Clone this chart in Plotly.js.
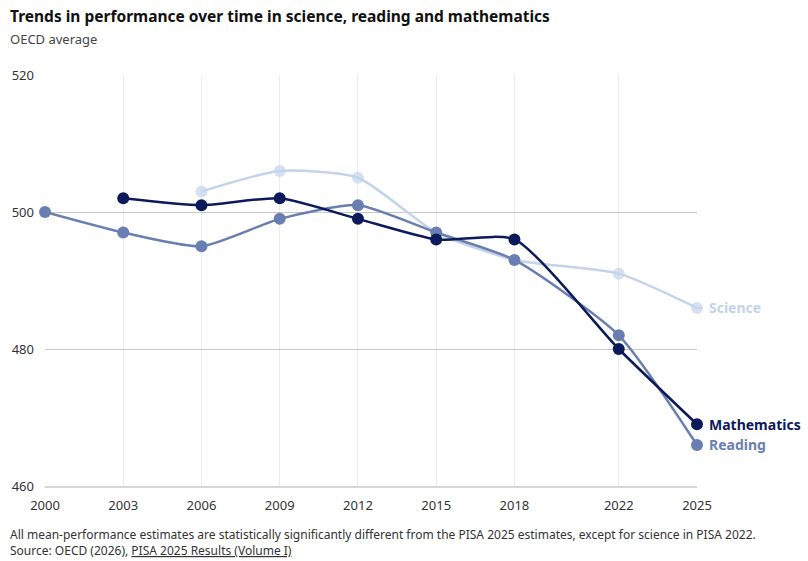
<!DOCTYPE html>
<html>
<head>
<meta charset="utf-8">
<script src="https://cdn.plot.ly/plotly-3.0.1.min.js"></script>
<style>
  body { margin: 0; background: #fff; }
  #chart { width: 808px; height: 561px; }
</style>
</head>
<body>
<div id="chart"></div>
<script>
// Data (OECD average scores)
const years = [2000, 2003, 2006, 2009, 2012, 2015, 2018, 2022, 2025];
const scienceYears = [2006, 2009, 2012, 2015, 2018, 2022, 2025];
const scienceScores = [503, 506, 505, 497, 493, 491, 486];
const scienceMarkerShown = [1, 1, 1, 0, 0, 1, 1];
const mathYears = [2003, 2006, 2009, 2012, 2015, 2018, 2022, 2025];
const mathScores = [502, 501, 502, 499, 496, 496, 480, 469];
const readingYears = [2000, 2003, 2006, 2009, 2012, 2015, 2018, 2022, 2025];
const readingScores = [500, 497, 495, 499, 501, 497, 493, 482, 466];
const yTicks = [460, 480, 500, 520];

const colScience = "#c3d4ea";
const colReading = "#6a7fb1";
const colMath = "#0c1a5b";
const font = "Noto Sans, Open Sans, sans-serif";

function series(name, x, y, color, sizes) {
    return {
        type: "scatter",
        mode: "lines+markers",
        name: name,
        x: x,
        y: y,
        line: { color: color, width: 2.5, shape: "spline", smoothing: 0.6 },
        marker: { color: color, size: sizes, line: { width: 0 } },
        cliponaxis: false,
        hoverinfo: "skip"
    };
}

const traces = [
    series("Science", scienceYears, scienceScores, colScience, scienceMarkerShown.map(v => v ? 12 : 0)),
    series("Reading", readingYears, readingScores, colReading, 12),
    series("Mathematics", mathYears, mathScores, colMath, 12)
];

// end-of-line labels
function endLabel(text, x, y, color) {
    return {
        x: x, y: y, xref: "x", yref: "y",
        text: "<b>" + text + "</b>",
        showarrow: true, arrowhead: 0, arrowwidth: 2, arrowcolor: color,
        ax: 10, ay: 0, xanchor: "left", startstandoff: 5, standoff: 0,
        font: { family: font, size: 14, color: color }
    };
}

const last = a => a[a.length - 1];

const layout = {
    width: 808,
    height: 561,
    margin: { l: 45, r: 111, t: 75, b: 75 },
    paper_bgcolor: "#fff",
    plot_bgcolor: "#fff",
    showlegend: false,
    font: { family: font, size: 13, color: "#333" },
    xaxis: {
        range: [2000, 2025],
        tickvals: years,
        ticktext: years.map(String),
        showgrid: true, gridcolor: "#ececec", gridwidth: 1,
        zeroline: false, showline: true, linecolor: "#d6d6d6", linewidth: 2,
        ticks: "", ticklabelstandoff: 6,
        tickfont: { family: font, size: 13, color: "#333" }
    },
    yaxis: {
        range: [460, 520],
        tickvals: yTicks,
        showgrid: true, gridcolor: "#c8c8c8", gridwidth: 1,
        zeroline: false, showline: false, ticks: "",
        ticklabelstandoff: 10,
        tickfont: { family: font, size: 13, color: "#333" }
    },
    annotations: [
        {
            xref: "paper", yref: "paper", x: -37 / 652, y: 1.1436, xanchor: "left", yanchor: "middle",
            text: "<b>Trends in performance over time in science, reading and mathematics</b>",
            showarrow: false, font: { family: font, size: 15.5, color: "#111" }
        },
        {
            xref: "paper", yref: "paper", x: -37 / 652, y: 1.0876, xanchor: "left", yanchor: "middle",
            text: "OECD average",
            showarrow: false, font: { family: font, size: 13, color: "#444" }
        },
        {
            xref: "paper", yref: "paper", x: -37 / 652, y: -0.119, xanchor: "left", yanchor: "middle",
            text: "All mean-performance estimates are statistically significantly different from the PISA 2025 estimates, except for science in PISA 2022.",
            showarrow: false, font: { family: font, size: 12, color: "#333" }
        },
        {
            xref: "paper", yref: "paper", x: -37 / 652, y: -0.158, xanchor: "left", yanchor: "middle",
            text: "Source: OECD (2026), <u>PISA 2025 Results (Volume I)</u>",
            showarrow: false, font: { family: font, size: 12, color: "#333" }
        },
        endLabel("Science", last(scienceYears), last(scienceScores), colScience),
        endLabel("Mathematics", last(mathYears), last(mathScores), colMath),
        endLabel("Reading", last(readingYears), last(readingScores), colReading)
    ]
};

Plotly.newPlot("chart", traces, layout, { displayModeBar: false, staticPlot: true });
</script>
</body>
</html>
